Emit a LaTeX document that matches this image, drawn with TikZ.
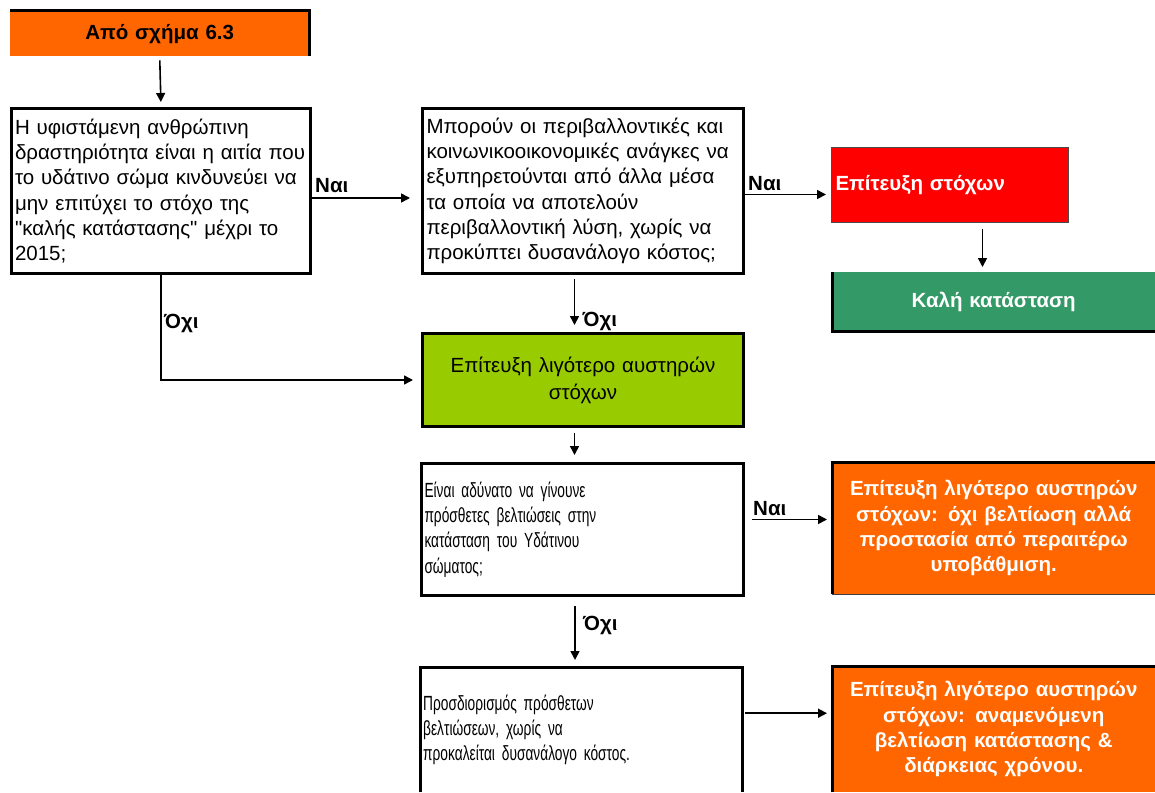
\documentclass[tikz,border=0pt]{standalone}
\usepackage{fontspec}
\setmainfont[Ligatures=TeXOff]{Liberation Sans}
\newfontfamily\narrowfont[FakeStretch=0.67,Ligatures=TeXOff]{Liberation Sans}
\usetikzlibrary{arrows.meta,calc}
\definecolor{orng}{HTML}{FF6600}
\definecolor{grn}{HTML}{339966}
\definecolor{ygrn}{HTML}{99CC00}
\newcommand\fsz{\fontsize{20.5pt}{25.2pt}\selectfont}
\tikzset{
  box/.style={anchor=north west, inner ysep=0pt, font=\fsz},
  bord/.style={line width=3pt, black},
  arr/.style={line width=1.6pt, -{Triangle[length=9pt,width=9pt]}},
  lbl/.style={font=\fsz\bfseries, inner sep=0pt}
}
\begin{document}
\begin{tikzpicture}[x=1pt,y=-1pt]
\clip (0,0) rectangle (1155,792);
\fill[white] (0,0) rectangle (1155,792);
% boxes
\node[box, fill=orng, minimum width=299pt, minimum height=45pt, text width=289pt, inner xsep=5pt, align=center, font=\fsz\bfseries] (b1) at (10,11) {Από σχήμα 6.3};
\draw[bord] (b1.north west) -- (b1.north east) -- (b1.south east);

\node[box, draw=black, line width=3pt, minimum width=299pt, minimum height=165pt, text width=292pt, inner xsep=3.5pt, align=left] (b2) at (10,107)
 {Η υφιστάμενη ανθρώπινη\\δραστηριότητα είναι η αιτία που\\το υδάτινο σώμα κινδυνεύει να\\μην επιτύχει το στόχο της\\"καλής κατάστασης" μέχρι το\\2015;};

\node[box, draw=black, line width=3pt, minimum width=321pt, minimum height=165pt, text width=313pt, inner xsep=4pt, align=left] (b3) at (421,107)
 {Μπορούν οι περιβαλλοντικές και\\κοινωνικοοικονομικές ανάγκες να\\εξυπηρετούνται από άλλα μέσα\\τα οποία να αποτελούν\\περιβαλλοντική λύση, χωρίς να\\προκύπτει δυσανάλογο κόστος;};

\node[box, fill=red, draw=black!70, line width=1pt, minimum width=237pt, minimum height=75pt, text width=229pt, inner xsep=4pt, align=left, text=white, font=\fsz\bfseries] (red) at (831,147) {Επίτευξη στόχων};

\node[box, fill=grn, minimum width=323pt, minimum height=59pt, text width=313pt, inner xsep=5pt, align=center, text=white, font=\fsz\bfseries] (grn) at (832,272) {Καλή κατάσταση};
\draw[bord] (grn.north west) -- (grn.south west) -- (grn.south east);

\node[box, fill=ygrn, draw=black, line width=3pt, minimum width=321pt, minimum height=93pt, text width=311pt, inner xsep=5pt, align=center, font=\fontsize{20.5pt}{27pt}\selectfont] (yg) at (421,332)
 {Επίτευξη λιγότερο αυστηρών\\στόχων};

\node[box, draw=black, line width=3pt, minimum width=322pt, minimum height=132pt, text width=316pt, inner xsep=3pt, align=left, font=\fsz\narrowfont] (b4) at (420,462)
 {Είναι αδύνατο να γίνουνε\\πρόσθετες βελτιώσεις στην\\κατάσταση του Υδάτινου\\σώματος;};

\node[box, fill=orng, minimum width=323pt, minimum height=132pt, text width=313pt, inner xsep=5pt, align=center, text=white, font=\fsz\bfseries] (o1) at (832,462)
 {Επίτευξη λιγότερο αυστηρών\\στόχων: όχι βελτίωση αλλά\\προστασία από περαιτέρω\\υποβάθμιση.};
\draw[bord] (o1.south west) -- (o1.north west) -- (o1.north east);
\draw[line width=1.5pt, black!75] (o1.south west) -- (o1.south east);

\node[box, minimum width=322pt, minimum height=125pt, text width=316pt, inner xsep=3pt, align=left, font=\fsz\narrowfont] (b5) at (420,667)
 {Προσδιορισμός πρόσθετων\\βελτιώσεων, χωρίς να\\προκαλείται δυσανάλογο κόστος.};
\draw[bord] (b5.south west) -- (b5.north west) -- (b5.north east) -- (b5.south east);

\node[box, fill=orng, minimum width=323pt, minimum height=126pt, text width=313pt, inner xsep=5pt, align=center, text=white, font=\fsz\bfseries] (o2) at (832,666)
 {Επίτευξη λιγότερο αυστηρών\\στόχων: αναμενόμενη\\βελτίωση κατάστασης \&\\διάρκειας χρόνου.};
\draw[bord] (o2.south west) -- (o2.north west) -- (o2.north east);

% connectors
\draw[arr, shorten <=4pt, shorten >=5pt] (b1.south) -- (b2.north);

\coordinate (c1) at ($(b2.east)+(0,7)$);
\draw[arr, shorten >=11pt] (c1) -- (c1 -| b3.west);
\node[lbl, anchor=south west] (n1) at ($(c1)+(3,-5)$) {Ναι};

\coordinate (c2) at ($(b3.east)+(0,3.5)$);
\draw[arr, shorten >=5pt] (c2) -- (c2 -| red.west);
\node[lbl, anchor=south west] (n2) at ($(c2)+(3,-4)$) {Ναι};

\coordinate (c3) at ($(red.south)+(32.5,0)$);
\draw[arr, shorten <=6pt, shorten >=5pt] (c3) -- (c3 |- grn.north);

\draw[arr, shorten >=8pt] (b2.south) |- (yg.west);
\node[lbl, anchor=west] (n3) at ($(b2.south)+(3,48)$) {Όχι};

\coordinate (c4) at ($(b3.south)+(-8.5,0)$);
\draw[arr, shorten <=4pt, shorten >=7pt] (c4) -- (c4 |- yg.north);
\node[lbl, anchor=west] (n4) at ($(c4)+(8,46)$) {Όχι};

\coordinate (c5) at ($(yg.south)+(-8.5,0)$);
\draw[arr, shorten <=5pt, shorten >=7pt] (c5) -- (c5 |- b4.north);

\coordinate (c6) at ($(b4.east)+(0,-10)$);
\draw[arr, shorten <=7pt, shorten >=5pt] (c6) -- (c6 -| o1.west);
\node[lbl, anchor=south west] (n5) at ($(c6)+(8,-4)$) {Ναι};

\coordinate (c7) at ($(b4.south)+(-7.5,0)$);
\draw[arr, shorten <=9pt, shorten >=7pt] (c7) -- (c7 |- b5.north);
\node[lbl, anchor=west] (n6) at ($(c7)+(8,28)$) {Όχι};

\coordinate (c8) at ($(b5.east)+(0,-16.5)$);
\draw[arr, shorten <=3pt, shorten >=5pt] (c8) -- (c8 -| o2.west);
\end{tikzpicture}
\end{document}
